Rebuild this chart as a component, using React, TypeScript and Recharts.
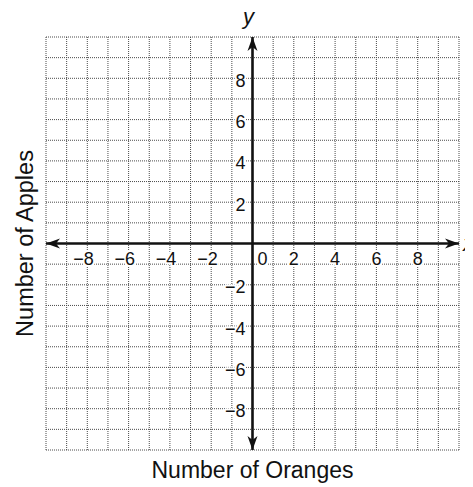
import { ScatterChart, Scatter, XAxis, YAxis, CartesianGrid, ReferenceLine, Label } from 'recharts';

// grid runs one unit per cell, -10..10 both ways
const gridTicks = [-10, -9, -8, -7, -6, -5, -4, -3, -2, -1, 0, 1, 2, 3, 4, 5, 6, 7, 8, 9, 10];
const xTickLabels = [-8, -6, -4, -2, 0, 2, 4, 6, 8];
const yTickLabels = [-8, -6, -4, -2, 2, 4, 6, 8];
const xTitle = 'Number of Oranges';
const yTitle = 'Number of Apples';

const FONT = '"Liberation Sans", Arial, Helvetica, sans-serif';

const xLabelPoints = xTickLabels.map((v) => ({ x: v, y: 0 }));
const yLabelPoints = yTickLabels.map((v) => ({ x: 0, y: v }));

const fmt = (v: number) => (v < 0 ? `\u2212${Math.abs(v)}` : `${v}`);

function arrowHead(tx: number, ty: number, dx: number, dy: number) {
  const L = 14, W = 5, notch = 4;
  const nx = -dy, ny = dx;
  const bx = tx - L * dx, by = ty - L * dy;
  const pts = [
    [tx, ty],
    [bx + W * nx, by + W * ny],
    [tx - (L - notch) * dx, ty - (L - notch) * dy],
    [bx - W * nx, by - W * ny],
  ];
  return <polygon points={pts.map((p) => p.join(',')).join(' ')} fill="#111" />;
}

function AxisArrow(props: any) {
  const { x1, y1, x2, y2, axis } = props;
  const len = Math.hypot(x2 - x1, y2 - y1) || 1;
  const ux = (x2 - x1) / len, uy = (y2 - y1) / len;
  // label sits past the larger (right / top) end
  const endRight = axis === 'x' ? (x2 > x1 ? [x2, y2] : [x1, y1]) : (y2 < y1 ? [x2, y2] : [x1, y1]);
  return (
    <g>
      <line x1={x1} y1={y1} x2={x2} y2={y2} stroke="#111" strokeWidth={2.6} />
      {arrowHead(x2, y2, ux, uy)}
      {arrowHead(x1, y1, -ux, -uy)}
      {axis === 'x' ? (
        <text x={endRight[0] + 4} y={endRight[1] + 7} fontSize={22} fontStyle="italic" fontFamily={FONT} fill="#111">x</text>
      ) : (
        <text x={endRight[0] - 4} y={endRight[1] - 13} fontSize={22} fontStyle="italic" fontFamily={FONT} fill="#111" textAnchor="middle">y</text>
      )}
    </g>
  );
}

// white halo knocks the grid out behind the numbers, as on the printed sheet
const haloStyle = { paintOrder: 'stroke' as const, stroke: '#fff', strokeWidth: 4, strokeLinejoin: 'round' as const };

function XTickText(props: any) {
  const { cx, cy, payload } = props;
  const v = payload.x;
  let x = cx, anchor = 'middle';
  if (v < 0) { x = cx + 6.5; anchor = 'end'; }
  if (v === 0) x = cx + 10;
  return (
    <text x={x} y={cy + 21} fontSize={18} fontFamily={FONT} fill="#111" textAnchor={anchor} style={haloStyle}>{fmt(v)}</text>
  );
}

function YTickText(props: any) {
  const { cx, cy, payload } = props;
  return (
    <text x={cx - 7} y={cy + 8.5} fontSize={18} fontFamily={FONT} fill="#111" textAnchor="end" style={haloStyle}>{fmt(payload.y)}</text>
  );
}

const noTick = () => <g />;

export default function App() {
  return (
    <div style={{ width: 465, height: 487, background: '#fff', marginTop: -8 }}>
      <ScatterChart width={465} height={487} margin={{ top: 37, right: 14, bottom: 0, left: 0 }}>
        <CartesianGrid stroke="#4a4a4a" strokeDasharray="1 1" strokeWidth={1} />
        <XAxis
          type="number"
          dataKey="x"
          domain={[-10, 10]}
          ticks={gridTicks}
          interval={0}
          tick={noTick}
          tickLine={false}
          axisLine={false}
          height={37}
        >
          <Label
            content={({ viewBox }: any) => (
              <text x={viewBox.x + viewBox.width / 2} y={viewBox.y + 28} fontSize={23} fontFamily={FONT} fill="#111" textAnchor="middle">{xTitle}</text>
            )}
          />
        </XAxis>
        <YAxis
          type="number"
          dataKey="y"
          domain={[-10, 10]}
          ticks={gridTicks}
          interval={0}
          tick={noTick}
          tickLine={false}
          axisLine={false}
          width={38}
        >
          <Label
            content={({ viewBox }: any) => {
              const cx = 25, cy = viewBox.y + viewBox.height / 2;
              return (
                <text x={cx} y={cy} transform={`rotate(-90 ${cx} ${cy})`} fontSize={23.5} fontFamily={FONT} fill="#111" textAnchor="middle">{yTitle}</text>
              );
            }}
          />
        </YAxis>
        <ReferenceLine y={0} shape={(p: any) => <AxisArrow {...p} axis="x" />} />
        <ReferenceLine x={0} shape={(p: any) => <AxisArrow {...p} axis="y" />} />
        <Scatter data={xLabelPoints} shape={(p: any) => <XTickText {...p} />} isAnimationActive={false} />
        <Scatter data={yLabelPoints} shape={(p: any) => <YTickText {...p} />} isAnimationActive={false} />
      </ScatterChart>
    </div>
  );
}
